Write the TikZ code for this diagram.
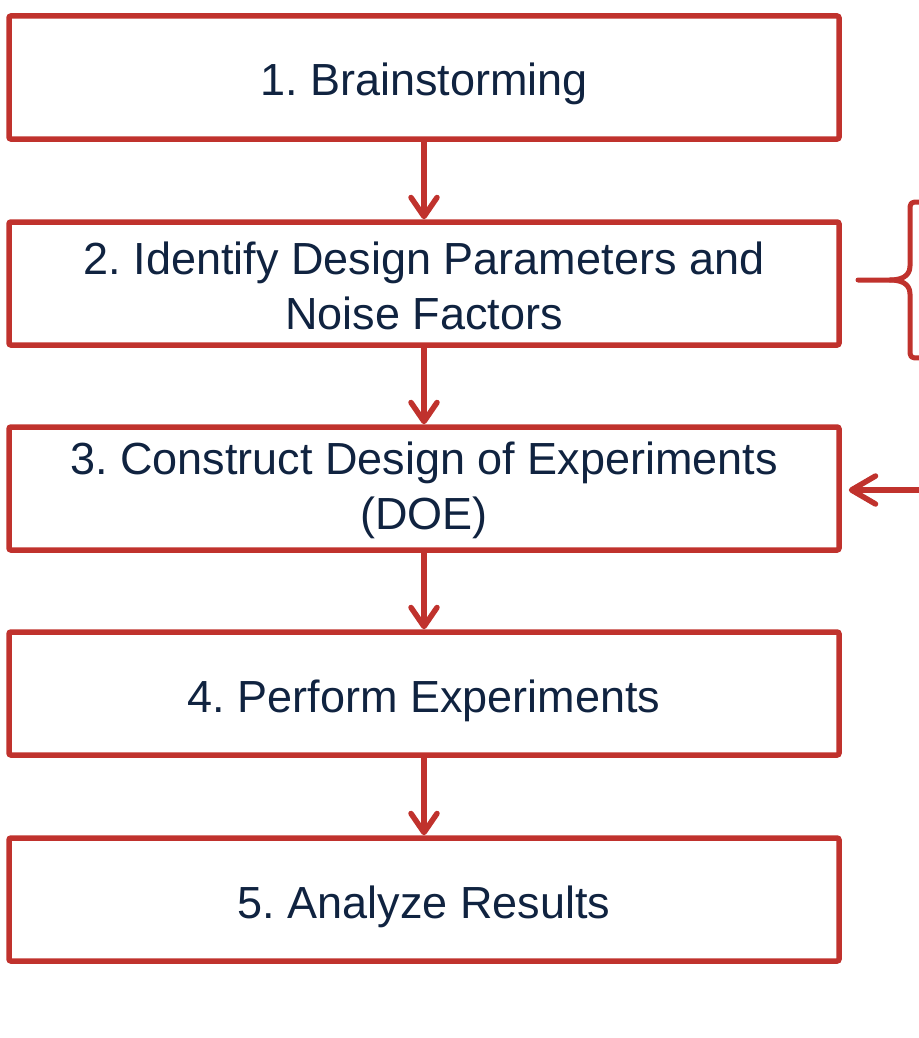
\documentclass[tikz,border=0pt]{standalone}
\usepackage{fontspec}
\setmainfont{Liberation Sans}
\frenchspacing
\usetikzlibrary{arrows.meta}
\definecolor{boxred}{RGB}{192,50,45}
\definecolor{navy}{RGB}{16,35,64}
\begin{document}
\begin{tikzpicture}[x=1pt,y=-1pt,
  stepbox/.style={draw=boxred,line width=5.5pt,rounded corners=2pt,minimum width=830pt,minimum height=123pt,inner sep=0pt},
  steptext/.style={align=center,text=navy,font=\fontsize{45}{55}\selectfont,inner sep=0pt},
  flow/.style={draw=boxred,line width=5.5pt,-{Straight Barb[length=19pt,width=26pt,round]}},
  sideflow/.style={draw=boxred,line width=5.5pt,-{Straight Barb[length=24pt,width=28pt,round]}},
  brace/.style={draw=boxred,line width=5pt,line cap=round,line join=round}]
\useasboundingbox (0,0) rectangle (918,1038);
\node[stepbox] (b1) at (424,77.5) {};
\node[stepbox] (b2) at (424,283.5) {};
\node[stepbox] (b3) at (424,488.5) {};
\node[stepbox] (b4) at (424,693.5) {};
\node[stepbox] (b5) at (424,899.5) {};
\node[steptext,anchor=base] (t1) at ([yshift=-18.5pt]b1.center) {1. Brainstorming};
\node[steptext] (t2) at ([yshift=-2pt]b2.center) {2. Identify Design Parameters and\\Noise Factors};
\node[steptext] (t3) at ([yshift=-2pt]b3.center) {3. Construct Design of Experiments\\(DOE)};
\node[steptext,anchor=base] (t4) at ([yshift=-18.5pt]b4.center) {4. Perform Experiments};
\node[steptext,anchor=base] (t5) at ([yshift=-18.5pt]b5.center) {5. Analyze Results};
\draw[flow] (b1) -- (b2);
\draw[flow] (b2) -- (b3);
\draw[flow] (b3) -- (b4);
\draw[flow] (b4) -- (b5);
\coordinate (bt) at (920,202);
\coordinate (tip) at (858,280);
\coordinate (bb) at (920,358);
\draw[brace] (bt) .. controls (910,202) .. (910,212) -- (910,266)
  .. controls (910,277) and (900,280) .. (890,280) -- (tip);
\draw[brace] (890,280) .. controls (900,280) and (910,283) .. (910,294) -- (910,348)
  .. controls (910,358) .. (bb);
\coordinate (src) at (922,490);
\draw[sideflow,shorten >=7pt] (src) -- (b3.east |- src);
\end{tikzpicture}
\end{document}
